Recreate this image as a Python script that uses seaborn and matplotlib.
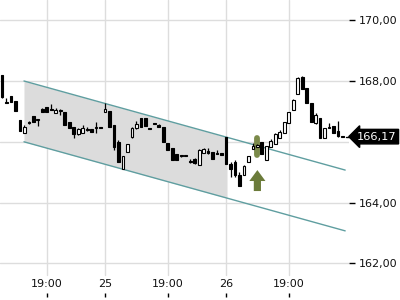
import numpy as np
import pandas as pd
import seaborn as sns
import matplotlib
matplotlib.use("Agg")
import matplotlib.pyplot as plt
from matplotlib.transforms import blended_transform_factory

# ---- data ----
opens = [168.20, 167.31, 167.50, 167.33, 166.72, 166.29, 166.66, 166.85, 166.72, 167.07,
         167.14, 167.07, 166.96, 167.00, 166.98, 166.66, 166.49, 166.24, 166.30, 166.40,
         166.43, 166.45, 166.47, 166.99, 167.00, 166.55, 166.00, 165.10, 165.67, 166.16,
         166.45, 166.78, 166.78, 166.45, 166.60, 166.55, 166.49, 165.95, 165.80, 165.60,
         165.55, 165.55, 165.38, 165.45, 165.24, 165.63, 165.70, 165.66, 165.62, 165.62,
         166.17, 165.27, 165.33, 164.91, 164.91, 165.35, 165.77, 165.83, 166.00, 165.40,
         165.82, 165.93, 166.13, 166.29, 166.62, 167.05, 167.57, 168.13, 167.77, 167.28,
         166.62, 166.78, 166.13, 166.45, 166.52, 166.35, 166.18]
highs = [168.20, 167.44, 167.50, 167.33, 166.72, 166.55, 166.68, 166.85, 166.75, 167.12,
         167.14, 167.24, 167.10, 167.08, 166.98, 166.66, 166.49, 166.45, 166.55, 166.49,
         166.43, 166.66, 166.48, 167.28, 167.02, 166.55, 166.05, 165.53, 165.92, 166.50,
         166.69, 166.78, 166.78, 166.45, 166.60, 166.58, 166.49, 165.95, 165.80, 165.60,
         165.57, 165.55, 165.42, 165.47, 165.76, 165.80, 165.80, 165.66, 165.72, 165.62,
         166.17, 165.33, 165.40, 165.00, 165.25, 165.53, 165.95, 165.93, 166.00, 165.86,
         166.08, 166.30, 166.40, 166.65, 166.98, 167.42, 168.12, 168.15, 167.77, 167.28,
         166.95, 166.78, 166.45, 166.62, 166.52, 166.67, 166.18]
lows = [167.45, 167.28, 167.31, 167.02, 166.35, 166.29, 166.60, 166.66, 166.52, 166.98,
        166.98, 167.04, 166.95, 166.88, 166.55, 166.45, 166.14, 166.22, 166.28, 166.37,
        166.33, 166.29, 166.45, 166.98, 166.49, 165.73, 165.33, 165.09, 165.67, 166.13,
        166.43, 166.49, 166.52, 166.43, 166.58, 166.50, 166.00, 165.73, 165.40, 165.40,
        165.50, 165.53, 165.30, 165.27, 165.24, 165.63, 165.60, 165.43, 165.59, 165.58,
        165.27, 164.85, 164.84, 164.55, 164.91, 165.35, 165.75, 165.83, 165.60, 165.40,
        165.82, 165.93, 166.13, 166.29, 166.62, 167.05, 167.57, 167.74, 167.28, 166.65,
        166.60, 166.13, 166.13, 166.45, 166.29, 166.16, 166.17]
closes = [167.47, 167.28, 167.31, 167.02, 166.35, 166.49, 166.62, 166.66, 166.75, 166.99,
          166.98, 167.05, 167.06, 167.03, 166.55, 166.45, 166.26, 166.42, 166.47, 166.38,
          166.33, 166.48, 166.46, 167.08, 166.50, 165.83, 165.35, 165.53, 165.92, 166.45,
          166.59, 166.49, 166.52, 166.43, 166.58, 166.50, 166.00, 165.73, 165.40, 165.40,
          165.52, 165.53, 165.34, 165.30, 165.73, 165.75, 165.62, 165.43, 165.60, 165.58,
          165.27, 165.10, 164.91, 164.55, 165.20, 165.53, 165.85, 165.89, 165.60, 165.86,
          166.03, 166.24, 166.32, 166.65, 166.98, 167.37, 168.10, 167.74, 167.28, 166.65,
          166.88, 166.13, 166.45, 166.47, 166.29, 166.19, 166.17]

x_tick_pos = [10, 23, 37, 50, 64]
x_tick_labels = ["19:00", "25", "19:00", "26", "19:00"]
y_grid = [162, 164, 166, 168, 170]
y_ticks = [162, 164, 168, 170]
y_tick_labels = ["162,00", "164,00", "168,00", "170,00"]

channel_x = [4.9, 76.6]
channel_upper = [168.00, 165.07]
channel_lower = [166.00, 163.07]
channel_fill_end = 50.2

last_price = 166.17
last_label = "166,17"
signal_idx = 57
signal_bar = [165.55, 166.14]
arrow_base, arrow_tip = 164.38, 165.07

df = pd.DataFrame({"o": opens, "h": highs, "l": lows, "c": closes})
df["i"] = np.arange(len(df))

# ---- figure ----
sns.set_theme(style="white")
plt.rcParams["font.family"] = ["DejaVu Sans"]
fig = plt.figure(figsize=(4, 3), dpi=100)
ax = fig.add_axes([0.0, 0.01, 0.8725, 0.99])
ax.set_facecolor("white")
for s in ax.spines.values():
    s.set_visible(False)

ax.set_xlim(-0.45, 77.45)
ax.set_ylim(160.895, 170.664)

# grid
for yt in y_grid:
    ax.axhline(yt, color="#dddddd", lw=1, zorder=0)
for xt in x_tick_pos:
    ax.axvline(xt, ymin=0.074, ymax=1, color="#dddddd", lw=1, zorder=0)

# channel
fx = np.array([channel_x[0], channel_fill_end])
fu = np.interp(fx, channel_x, channel_upper)
fl = np.interp(fx, channel_x, channel_lower)
ax.fill_between(fx, fl, fu, color="#dcdcdc", zorder=1, lw=0)
chan = pd.DataFrame({"x": channel_x * 2, "y": channel_upper + channel_lower,
                     "g": ["u", "u", "l", "l"]})
sns.lineplot(data=chan, x="x", y="y", units="g", estimator=None, color="#5f9ea0",
             lw=1, ax=ax, zorder=2, legend=False)

# signal bar
ax.plot([signal_idx, signal_idx], signal_bar, color="#7b8a4a", lw=4.2,
        solid_capstyle="round", zorder=3)
ax.arrow(signal_idx, arrow_base, 0, arrow_tip - arrow_base, width=1.6, head_width=3.6,
         head_length=0.36, length_includes_head=True, color="#6b7b3a", lw=0, zorder=3)

# candles
ax.vlines(df["i"], df["l"], df["h"], color="black", lw=0.9, zorder=4)
up = df["c"] > df["o"]
body_bottom = np.minimum(df["o"], df["c"])
body_h = np.maximum(np.abs(df["c"] - df["o"]), 0.03)
ax.bar(df["i"], body_h, bottom=body_bottom, width=0.62,
       color=np.where(up, "white", "black"), edgecolor="black", linewidth=0.8, zorder=5)

# axes ticks
ax.set_xticks(x_tick_pos)
ax.set_xticklabels(x_tick_labels)
ax.tick_params(axis="x", direction="in", length=3, width=1, color="black",
               pad=-13, labelsize=8, labelcolor="#111111", bottom=True)
ax.yaxis.tick_right()
ax.set_yticks(y_ticks)
ax.set_yticklabels(y_tick_labels)
ax.tick_params(axis="y", direction="out", length=4, width=1, color="black",
               pad=3, labelsize=8, labelcolor="#111111", right=True)
ax.set_xlabel("")
ax.set_ylabel("")

# last price tag
tr = blended_transform_factory(ax.transAxes, ax.transData)
ax.plot([0.99, 1.0], [last_price, last_price], transform=tr, color="black",
        lw=1, clip_on=False, zorder=9)
ax.text(1.022, last_price, last_label, transform=tr, ha="left", va="center",
        color="white", fontsize=8.2, zorder=10,
        bbox=dict(boxstyle="larrow,pad=0.2", fc="black", ec="black"))

fig.savefig("out.png", dpi=100)
